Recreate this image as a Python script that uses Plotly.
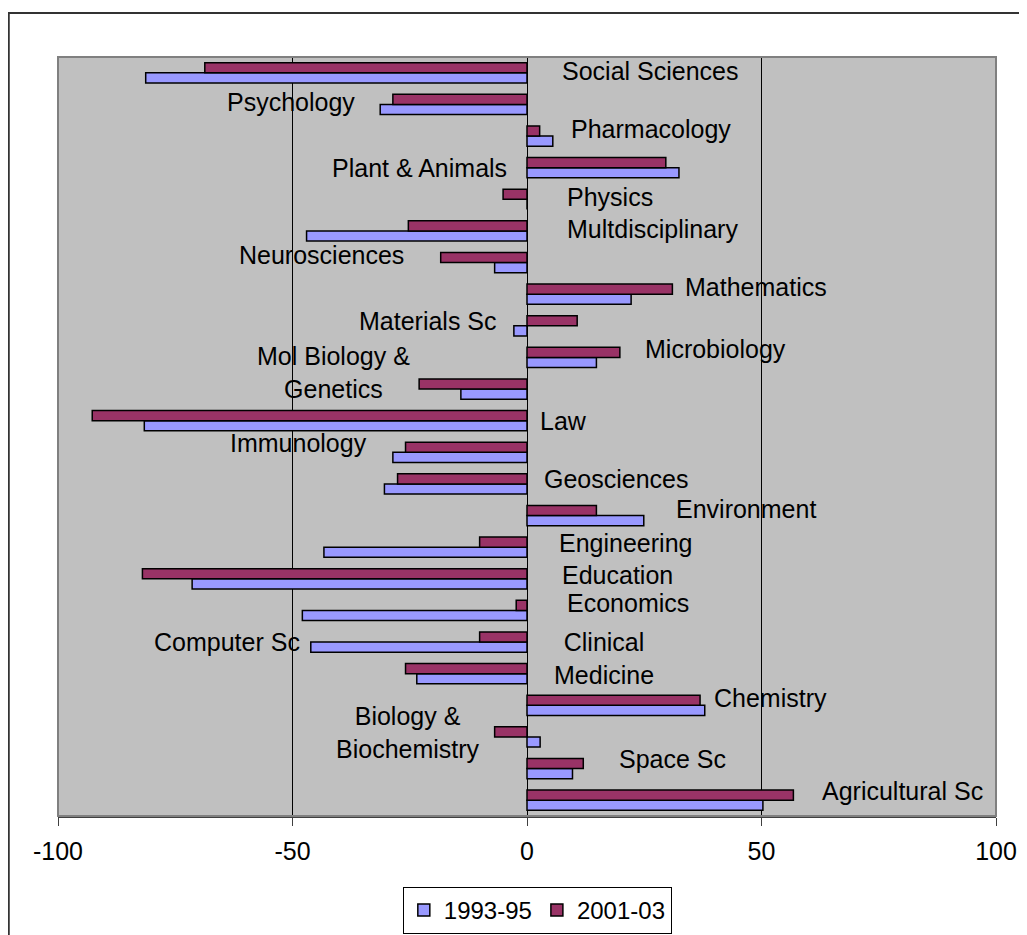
import plotly.graph_objects as go

# Categories, top to bottom as shown in the chart
categories = [
    "Social Sciences", "Psychology", "Pharmacology", "Plant & Animals", "Physics",
    "Multidisciplinary", "Neurosciences", "Mathematics", "Materials Sc", "Microbiology",
    "Mol Biology & Genetics", "Law", "Immunology", "Geosciences", "Environment",
    "Engineering", "Education", "Economics", "Computer Sc", "Clinical Medicine",
    "Chemistry", "Biology & Biochemistry", "Space Sc", "Agricultural Sc",
]

values_1993_95 = [
    -81.3, -31.3, 5.5, 32.4, 0.0,
    -47.0, -6.9, 22.2, -2.8, 14.8,
    -14.1, -81.6, -28.6, -30.4, 24.9,
    -43.3, -71.4, -47.9, -46.1, -23.5,
    37.9, 2.8, 9.7, 50.3,
]

values_2001_03 = [
    -68.7, -28.6, 2.7, 29.6, -5.1,
    -25.3, -18.4, 31.0, 10.7, 19.8,
    -23.0, -92.7, -25.9, -27.6, 14.8,
    -10.1, -82.0, -2.3, -10.1, -25.9,
    36.9, -6.9, 12.0, 56.8,
]

series_names = ["1993-95", "2001-03"]
x_ticks = [-100, -50, 0, 50, 100]

# Free-floating category labels (text, x in data units, y in category index units)
label_texts = [
    "Social Sciences", "Psychology", "Pharmacology", "Plant & Animals", "Physics",
    "Multdisciplinary", "Neurosciences", "Mathematics", "Materials Sc", "Microbiology",
    "Mol Biology &<br>Genetics", "Law", "Immunology", "Geosciences", "Environment",
    "Engineering", "Education", "Economics", "Computer Sc", "Clinical<br>Medicine",
    "Chemistry", "Biology &<br>Biochemistry", "Space Sc", "Agricultural Sc",
]
label_x = [26.2, -50.4, 26.5, -22.9, 17.8, 26.8, -43.9, 48.8, -21.2, 40.1,
           -41.2, 7.7, -48.8, 19.1, 46.7, 21.1, 19.3, 21.6, -63.9, 16.5,
           52.0, -25.4, 31.1, 80.1]
label_y = [23.07, 22.08, 21.22, 19.99, 19.08, 18.06, 17.24, 16.24, 15.16, 14.27,
           13.53, 12.0, 11.30, 10.16, 9.21, 8.13, 7.12, 6.24, 5.01, 4.48,
           3.24, 2.13, 1.30, 0.30]

FONT = "Liberation Sans, Arial, sans-serif"
colors = ["#9999FF", "#993366"]

fig = go.Figure()
for name, vals, col in zip(series_names, [values_1993_95, values_2001_03], colors):
    fig.add_trace(go.Bar(
        y=categories, x=vals, name=name, orientation="h",
        marker=dict(color=col, line=dict(color="black", width=1.5)),
    ))

for t, lx, ly in zip(label_texts, label_x, label_y):
    fig.add_annotation(x=lx, y=ly, xref="x", yref="y", text=t, showarrow=False,
                       xanchor="center", yanchor="middle",
                       font=dict(family=FONT, size=25, color="black"))

# outer chart frame (extends beyond the visible window on right/bottom)
fig.add_shape(type="rect", xref="paper", yref="paper",
              x0=-0.0525, x1=1.06, y0=-0.2, y1=1.058,
              line=dict(color="#333333", width=2), fillcolor="rgba(0,0,0,0)", layer="below")
# plot-area border
fig.add_shape(type="rect", xref="paper", yref="paper", x0=0, x1=1, y0=0, y1=1,
              line=dict(color="#808080", width=2), fillcolor="rgba(0,0,0,0)")

fig.update_layout(
    width=1019, height=927,
    margin=dict(l=50, r=31, t=49, b=119, autoexpand=False),
    paper_bgcolor="white", plot_bgcolor="#C0C0C0",
    barmode="group", bargap=0.36, bargroupgap=0,
    font=dict(family=FONT, size=25, color="black"),
    showlegend=True,
    legend=dict(orientation="h", x=0.511, xanchor="center", y=-0.0935, yanchor="top",
                bordercolor="black", borderwidth=1, bgcolor="white",
                font=dict(family=FONT, size=24), itemwidth=30, tracegroupgap=0),
)
fig.update_xaxes(range=[-100, 100], tickvals=x_ticks, ticktext=[str(v) for v in x_ticks],
                 showgrid=True, gridcolor="black", gridwidth=1,
                 zeroline=True, zerolinecolor="black", zerolinewidth=1,
                 ticks="outside", ticklen=8, tickcolor="#404040",
                 showline=True, linecolor="#404040", linewidth=2,
                 tickfont=dict(family=FONT, size=25), ticklabelstandoff=4)
fig.update_yaxes(categoryorder="array", categoryarray=list(reversed(categories)),
                 showticklabels=False, ticks="", showgrid=False, zeroline=False,
                 range=[-0.5, len(categories) - 0.5])

fig.write_html("out.html")
